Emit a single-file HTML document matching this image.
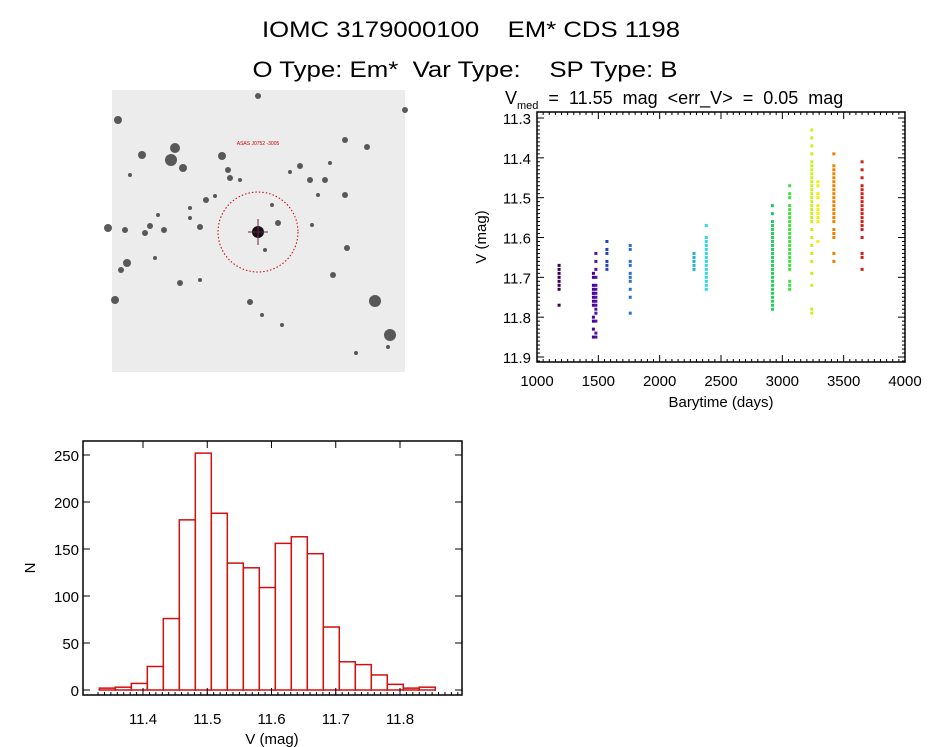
<!DOCTYPE html>
<html><head><meta charset="utf-8"><style>
html,body{margin:0;padding:0;background:#fff;width:944px;height:747px;overflow:hidden}
svg{display:block}
text{font-family:"Liberation Sans",sans-serif;fill:#000;white-space:pre}
</style></head><body>
<svg id="root" width="944" height="747" xmlns="http://www.w3.org/2000/svg" xml:space="preserve">
<text x="471" y="37" font-size="22" text-anchor="middle" textLength="418" lengthAdjust="spacingAndGlyphs">IOMC 3179000100    EM* CDS 1198</text>
<text x="465" y="77" font-size="22" text-anchor="middle" textLength="425" lengthAdjust="spacingAndGlyphs">O Type: Em*  Var Type:    SP Type: B</text>
<g id="img">
<rect x="112" y="90" width="293" height="282" fill="#ececec"/>
</g>
<g id="lc"></g>
<g id="hist"></g>
</svg>
<script>
// ---- light curve data ----
const lcTimes=[1180,1460,1480,1570,1760,2280,2380,2920,3060,3240,3290,3420,3650];
const lcColors=["#3a0050","#4a0090","#5010a0","#2040c0","#2a70d0","#20b0d8","#30d8e0","#20d060","#40e040","#c8f020","#f0f000","#f08000","#d02010"];
const lcMags=[
[11.67,11.68,11.69,11.70,11.71,11.72,11.73,11.77],
[11.69,11.70,11.72,11.73,11.74,11.74,11.75,11.76,11.77,11.80,11.81,11.83,11.85],
[11.64,11.66,11.68,11.70,11.72,11.73,11.74,11.75,11.76,11.77,11.78,11.79,11.81,11.84,11.85],
[11.61,11.63,11.64,11.66,11.67,11.68],
[11.62,11.63,11.66,11.67,11.69,11.70,11.71,11.73,11.75,11.79],
[11.64,11.65,11.66,11.67,11.68],
[11.57,11.60,11.61,11.62,11.63,11.64,11.65,11.66,11.67,11.68,11.69,11.70,11.71,11.72,11.73],
[11.52,11.54,11.56,11.57,11.58,11.59,11.60,11.61,11.62,11.63,11.64,11.65,11.66,11.67,11.68,11.69,11.70,11.71,11.72,11.73,11.74,11.75,11.76,11.77,11.78],
[11.47,11.49,11.50,11.52,11.53,11.54,11.55,11.56,11.57,11.58,11.59,11.60,11.61,11.62,11.63,11.64,11.65,11.66,11.67,11.68,11.71,11.72,11.73],
[11.33,11.35,11.37,11.39,11.41,11.42,11.43,11.44,11.45,11.46,11.47,11.48,11.49,11.50,11.51,11.52,11.53,11.54,11.55,11.56,11.58,11.60,11.62,11.64,11.66,11.69,11.72,11.78,11.79],
[11.46,11.47,11.49,11.50,11.52,11.53,11.54,11.55,11.56,11.61],
[11.39,11.42,11.43,11.44,11.45,11.46,11.47,11.48,11.49,11.50,11.51,11.52,11.53,11.54,11.55,11.56,11.58,11.59,11.60,11.64,11.66],
[11.41,11.43,11.45,11.47,11.48,11.49,11.50,11.51,11.52,11.53,11.54,11.55,11.56,11.57,11.58,11.60,11.64,11.65,11.68]
];
const lcXTicks=[1000,1500,2000,2500,3000,3500,4000];
const lcYTicks=[11.3,11.4,11.5,11.6,11.7,11.8,11.9];
// ---- histogram data ----
const histStart=11.332, histWidth=0.0249;
const histCounts=[2,3,7,25,76,181,252,188,135,130,109,156,163,145,67,30,27,16,6,2,3];
const histXTicks=[11.4,11.5,11.6,11.7,11.8];
const histYTicks=[0,50,100,150,200,250];
// ---- sky image stars ----
const starX=[118,142,171,175,183,127,222,108,164,206,145,250,258,230,300,347,278,345,367,375,150,200,180,310,325,228,333,390,405,215,265,290,318,272,190,240,200,262,155,121,130,158,388,115,330,356,125,190,282,345,312];
const starY=[120,155,160,148,168,263,156,228,230,200,233,302,96,178,166,248,223,140,147,301,226,227,283,180,180,170,275,335,110,196,250,172,195,205,208,180,280,315,258,270,175,215,347,300,163,353,230,218,325,195,225];
const starR=[4,4,6,5,4,4,4,4,3,3,3,3,3,3,3,3,3,3,3,6,3,3,3,3,3,3,3,6,3,2,2,2,2,2,2,2,2,2,2,3,2,2,2,4,2,2,3,2,2,3,2];

const NS="http://www.w3.org/2000/svg";
function mk(parent,tag,attrs){const e=document.createElementNS(NS,tag);for(const k in attrs)e.setAttribute(k,attrs[k]);parent.appendChild(e);return e;}
function txt(parent,x,y,s,size,anchor){const t=mk(parent,"text",{x:x,y:y,"font-size":size,"text-anchor":anchor||"middle"});t.textContent=s;return t;}

const img=document.getElementById("img");
for(let i=0;i<starX.length;i++){
  const s=mk(img,"circle",{cx:starX[i],cy:starY[i],r:starR[i],fill:"#333",opacity:0.8});
  
  
}
const tgt=mk(img,"circle",{cx:258,cy:232,r:6,fill:"#111"});


mk(img,"line",{x1:258,y1:219,x2:258,y2:245,stroke:"#702050","stroke-width":1});
mk(img,"line",{x1:248,y1:232,x2:268,y2:232,stroke:"#702050","stroke-width":1});
const ring=mk(img,"circle",{cx:258,cy:232,r:40,fill:"none",stroke:"#c00","stroke-width":1,"stroke-dasharray":"1.5 2"});


const lab=txt(img,258,145,"ASAS J0752 -3005",5,"middle");lab.style.fill="#c00";

const lc=document.getElementById("lc");
const L={x0:537,x1:905,y0:112,y1:362};
const lx=t=>L.x0+(t-1000)/3000*(L.x1-L.x0);
const ly=m=>118+(m-11.3)/0.6*(357-118);
for(let g=0;g<lcTimes.length;g++){
  for(const m of lcMags[g]){
    const p=mk(lc,"rect",{x:lx(lcTimes[g])-1.5,y:ly(m)-1.5,width:3,height:3,fill:lcColors[g]});
    
    
  }
}
mk(lc,"rect",{x:L.x0,y:L.y0,width:L.x1-L.x0,height:L.y1-L.y0,fill:"none",stroke:"#000","stroke-width":1.5});
for(let i=0;i<lcXTicks.length;i++){
  const x=lx(lcXTicks[i]);
  mk(lc,"line",{x1:x,y1:L.y1,x2:x,y2:L.y1-7,stroke:"#000"});
  mk(lc,"line",{x1:x,y1:L.y0,x2:x,y2:L.y0+7,stroke:"#000"});
  if(i<lcXTicks.length-1)for(let k=1;k<10;k++){const xm=lx(lcXTicks[i]+k*50);
    mk(lc,"line",{x1:xm,y1:L.y1,x2:xm,y2:L.y1-3,stroke:"#000"});mk(lc,"line",{x1:xm,y1:L.y0,x2:xm,y2:L.y0+3,stroke:"#000"});}
  const t=txt(lc,x,386,String(lcXTicks[i]),15);
  
  
}
for(let i=0;i<lcYTicks.length;i++){
  const y=ly(lcYTicks[i]);
  mk(lc,"line",{x1:L.x0,y1:y,x2:L.x0+7,y2:y,stroke:"#000"});
  mk(lc,"line",{x1:L.x1,y1:y,x2:L.x1-7,y2:y,stroke:"#000"});
  for(let k=1;k<10;k++){const ym=ly(lcYTicks[i]+k*0.01); if(ym>L.y1) break;
    mk(lc,"line",{x1:L.x0,y1:ym,x2:L.x0+3,y2:ym,stroke:"#000"});mk(lc,"line",{x1:L.x1,y1:ym,x2:L.x1-3,y2:ym,stroke:"#000"});}
  const t=txt(lc,531,y+6,lcYTicks[i].toFixed(1),15,"end");
  
  
}
const lxt=txt(lc,721,407,"Barytime (days)",15);


const lyt=txt(lc,0,0,"V (mag)",15);lyt.setAttribute("transform","translate(486,237) rotate(-90)");


const st=mk(lc,"text",{x:505,y:104,"font-size":18});
st.innerHTML='V<tspan font-size="11" dy="5">med</tspan><tspan dy="-5">  =  11.55  mag  &lt;err_V&gt;  =  0.05  mag</tspan>';



const h=document.getElementById("hist");
const H={x0:83,x1:462,y0:441,y1:695};
const hx=v=>143+(v-11.4)/0.4*(400-143);
const hy=c=>690-c/250*(690-455);
for(let i=0;i<histCounts.length;i++){
  const a=hx(histStart+i*histWidth), b=hx(histStart+(i+1)*histWidth);
  const r=mk(h,"rect",{x:a,y:hy(histCounts[i]),width:b-a,height:690-hy(histCounts[i]),fill:"none",stroke:"#d01010","stroke-width":1.5});
  
  
}
mk(h,"rect",{x:H.x0,y:H.y0,width:H.x1-H.x0,height:H.y1-H.y0,fill:"none",stroke:"#000","stroke-width":1.5});
for(const v of histXTicks){
  const x=hx(v);
  mk(h,"line",{x1:x,y1:H.y1,x2:x,y2:H.y1-7,stroke:"#000"});
  mk(h,"line",{x1:x,y1:H.y0,x2:x,y2:H.y0+7,stroke:"#000"});
  const t=txt(h,x,724,v.toFixed(1),15);
  
  
}
for(let v=11.33;v<11.9;v+=0.01){const x=hx(v); if(x<H.x0||x>H.x1) continue;
  mk(h,"line",{x1:x,y1:H.y1,x2:x,y2:H.y1-3,stroke:"#000"});}
for(const c of histYTicks){
  const y=hy(c);
  mk(h,"line",{x1:H.x0,y1:y,x2:H.x0+7,y2:y,stroke:"#000"});
  mk(h,"line",{x1:H.x1,y1:y,x2:H.x1-7,y2:y,stroke:"#000"});
  const t=txt(h,79,y+6,String(c),15,"end");
  
  
}
const hxt=txt(h,272,744,"V (mag)",15);


const hyt=txt(h,0,0,"N",15);hyt.setAttribute("transform","translate(35,568) rotate(-90)");


</script>
</body></html>
